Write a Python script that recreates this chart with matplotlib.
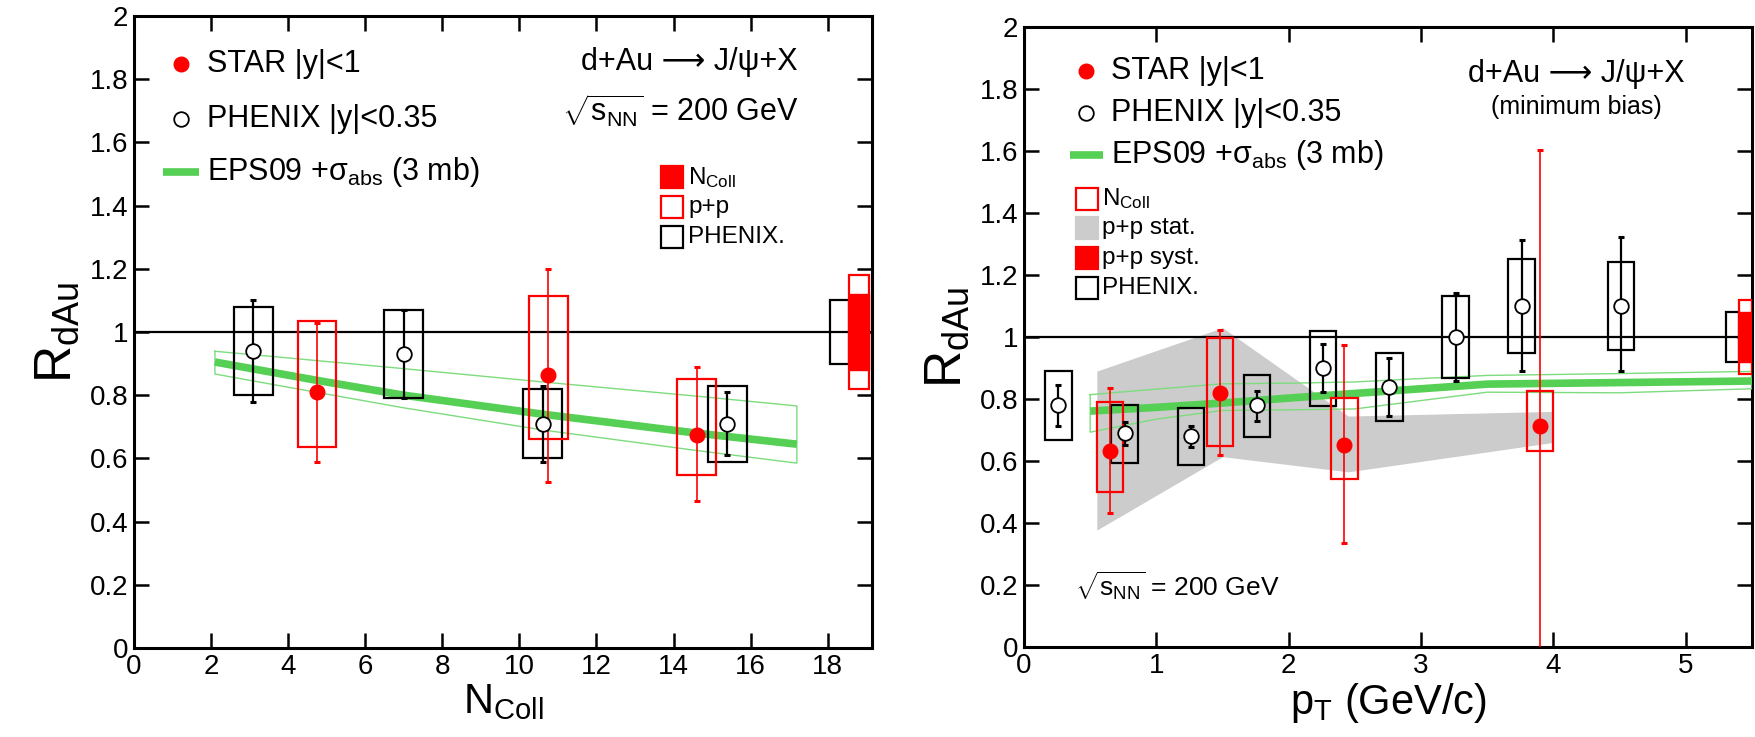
import matplotlib
matplotlib.use('Agg')
import matplotlib.pyplot as plt
from matplotlib.patches import Rectangle
from matplotlib.ticker import FuncFormatter
import numpy as np

plt.rcParams['font.family'] = ['Liberation Sans', 'DejaVu Sans']
plt.rcParams['mathtext.fontset'] = 'custom'
plt.rcParams['mathtext.rm'] = 'Liberation Sans'
plt.rcParams['mathtext.it'] = 'Liberation Sans:italic'
plt.rcParams['mathtext.default'] = 'regular'

RED = '#ff0000'
GREEN = '#55d055'
GREEN_THIN = '#7ddc7d'
GRAY = '#cccccc'

# ---- left: R_dAu vs N_coll ----
phx_ncoll = [3.1, 7.0, 10.6, 15.4]
phx_ncoll_r = [0.94, 0.93, 0.71, 0.71]
phx_ncoll_stat_lo = [0.78, 0.79, 0.59, 0.61]
phx_ncoll_stat_hi = [1.10, 1.07, 0.83, 0.81]
phx_ncoll_sys_lo = [0.80, 0.79, 0.60, 0.59]
phx_ncoll_sys_hi = [1.08, 1.07, 0.82, 0.83]

star_ncoll = [4.75, 10.75, 14.6]
star_ncoll_r = [0.81, 0.865, 0.675]
star_ncoll_stat_lo = [0.59, 0.525, 0.465]
star_ncoll_stat_hi = [1.03, 1.20, 0.89]
star_ncoll_sys_lo = [0.635, 0.66, 0.548]
star_ncoll_sys_hi = [1.035, 1.115, 0.851]

eps_ncoll = [2.1, 3.1, 4.7, 7.0, 10.6, 14.6, 17.2]
eps_ncoll_mid = [0.905, 0.883, 0.848, 0.800, 0.740, 0.680, 0.645]
eps_ncoll_hi = [0.939, 0.928, 0.910, 0.884, 0.842, 0.797, 0.766]
eps_ncoll_lo = [0.867, 0.845, 0.810, 0.760, 0.690, 0.625, 0.585]

# global uncertainties (half heights around 1)
glob_ncoll_phenix = 0.10
glob_ncoll_ncoll = 0.12
glob_ncoll_pp = 0.18

# ---- right: R_dAu vs pT ----
phx_pt = [0.26, 0.76, 1.26, 1.76, 2.26, 2.76, 3.26, 3.76, 4.51]
phx_pt_r = [0.78, 0.69, 0.68, 0.78, 0.90, 0.84, 1.00, 1.10, 1.10]
phx_pt_stat_lo = [0.714, 0.652, 0.644, 0.730, 0.822, 0.745, 0.858, 0.889, 0.889]
phx_pt_stat_hi = [0.844, 0.725, 0.714, 0.827, 0.978, 0.931, 1.141, 1.312, 1.321]
phx_pt_sys_lo = [0.669, 0.592, 0.586, 0.679, 0.778, 0.728, 0.868, 0.949, 0.959]
phx_pt_sys_hi = [0.890, 0.782, 0.771, 0.879, 1.019, 0.949, 1.133, 1.251, 1.241]

star_pt = [0.65, 1.48, 2.42, 3.90]
star_pt_r = [0.631, 0.819, 0.653, 0.712]
star_pt_stat_lo = [0.431, 0.619, 0.334, -0.25]
star_pt_stat_hi = [0.835, 1.022, 0.974, 1.604]
star_pt_sys_lo = [0.500, 0.650, 0.542, 0.633]
star_pt_sys_hi = [0.790, 0.997, 0.804, 0.827]

pp_stat_pt = [0.55, 1.50, 2.45, 4.0]
pp_stat_hi = [0.890, 1.030, 0.745, 0.760]
pp_stat_lo = [0.377, 0.614, 0.565, 0.660]

eps_pt = [0.5, 1.0, 1.5, 2.0, 2.5, 3.0, 3.5, 4.5, 5.5]
eps_pt_mid = [0.761, 0.773, 0.787, 0.803, 0.818, 0.833, 0.848, 0.853, 0.858]
eps_pt_hi = [0.814, 0.832, 0.849, 0.851, 0.855, 0.866, 0.876, 0.882, 0.889]
eps_pt_lo = [0.693, 0.735, 0.763, 0.765, 0.768, 0.795, 0.822, 0.820, 0.833]

glob_pt_phenix = 0.08
glob_pt_pp = 0.08
glob_pt_ncoll = 0.12

REACTION = 'd+Au ⟶ J/ψ+X'


def boxes(ax, x, lo, hi, half, color):
    for xi, l, h in zip(x, lo, hi):
        ax.add_patch(Rectangle((xi - half, l), 2 * half, h - l, fill=False,
                               edgecolor=color, lw=1.6, zorder=4))


def points(ax, x, r, lo, hi, filled):
    r = np.array(r)
    yerr = [r - np.array(lo), np.array(hi) - r]
    if filled:
        ax.errorbar(x, r, yerr=yerr, fmt='none', ecolor=RED, elinewidth=1.2,
                    capsize=2.5, capthick=2.2, zorder=5)
        ax.plot(x, r, 'o', color=RED, ms=10.5, mec=RED, zorder=6)
    else:
        ax.errorbar(x, r, yerr=yerr, fmt='none', ecolor='black', elinewidth=1.6,
                    capsize=2.5, capthick=2.2, zorder=5)
        ax.plot(x, r, 'o', mfc='white', mec='black', mew=1.3, ms=10.5, zorder=6)


def eps_band(ax, x, mid, lo, hi):
    xs = list(x) + list(x)[::-1] + [x[0]]
    ys = list(hi) + list(lo)[::-1] + [hi[0]]
    ax.plot(xs, ys, color=GREEN_THIN, lw=1.0, zorder=3)
    ax.plot(x, mid, color=GREEN, lw=5.5, solid_capstyle='butt', zorder=3)


def style(ax, xmax, xticks):
    ax.set_xlim(0, xmax)
    ax.set_ylim(0, 2)
    ax.set_xticks(xticks)
    ax.set_yticks(np.arange(0, 2.01, 0.2))
    ax.yaxis.set_major_formatter(FuncFormatter(lambda v, p: '%g' % round(v, 1)))
    ax.tick_params(direction='in', length=11, width=1.8, top=True, right=True,
                   labelsize=20, pad=4)
    for s in ax.spines.values():
        s.set_linewidth(2.2)
    ax.axhline(1, color='black', lw=1.6, zorder=2)
    ax.set_ylabel(r'R$_{dAu}$', fontsize=37, labelpad=6)


def legend_square(ax, x, y, xt, face, edge, label):
    ax.plot([x], [y], 's', ms=15.5, mfc=face, mec=edge, mew=1.6, zorder=7)
    ax.text(xt, y, label, fontsize=17.5, va='center', ha='left', zorder=7)


fig = plt.figure(figsize=(17.55, 7.37), dpi=100)
ax1 = fig.add_axes([134 / 1755, 89 / 737, 738 / 1755, 632 / 737])
ax2 = fig.add_axes([1024 / 1755, 90 / 737, 728 / 1755, 620 / 737])

# ---- left panel ----
style(ax1, 19.15, np.arange(0, 19, 2))
eps_band(ax1, eps_ncoll, eps_ncoll_mid, eps_ncoll_lo, eps_ncoll_hi)
boxes(ax1, phx_ncoll, phx_ncoll_sys_lo, phx_ncoll_sys_hi, 0.5, 'black')
boxes(ax1, star_ncoll, star_ncoll_sys_lo, star_ncoll_sys_hi, 0.5, RED)
points(ax1, phx_ncoll, phx_ncoll_r, phx_ncoll_stat_lo, phx_ncoll_stat_hi, False)
points(ax1, star_ncoll, star_ncoll_r, star_ncoll_stat_lo, star_ncoll_stat_hi, True)

ax1.add_patch(Rectangle((18.05, 1 - glob_ncoll_phenix), 0.5, 2 * glob_ncoll_phenix,
                        fill=False, edgecolor='black', lw=1.6, zorder=4))
ax1.add_patch(Rectangle((18.55, 1 - glob_ncoll_pp), 0.53, 2 * glob_ncoll_pp,
                        fill=False, edgecolor=RED, lw=1.6, zorder=4))
ax1.add_patch(Rectangle((18.55, 1 - glob_ncoll_ncoll), 0.53, 2 * glob_ncoll_ncoll,
                        facecolor=RED, edgecolor=RED, lw=1.0, zorder=4))

ax1.set_xlabel(r'N$_{Coll}$', fontsize=30, labelpad=2)

ax1.plot([1.23], [1.848], 'o', color=RED, ms=10.5)
ax1.text(1.9, 1.848, 'STAR |y|<1', fontsize=22, va='center')
ax1.plot([1.23], [1.675], 'o', mfc='white', mec='black', mew=1.3, ms=10.5)
ax1.text(1.9, 1.675, 'PHENIX |y|<0.35', fontsize=22, va='center')
ax1.plot([0.75, 1.69], [1.505, 1.505], color=GREEN, lw=5.5, solid_capstyle='butt')
ax1.text(1.9, 1.505, r'EPS09 +$\sigma_{abs}$ (3 mb)', fontsize=22, va='center')
ax1.text(14.41, 1.853, REACTION, fontsize=22, ha='center', va='center',
         family=['Liberation Sans', 'DejaVu Sans'])
ax1.text(14.17, 1.70, r'$\sqrt{s_{NN}}$ = 200 GeV', fontsize=22, ha='center', va='center')

legend_square(ax1, 13.97, 1.49, 14.38, RED, RED, r'N$_{Coll}$')
legend_square(ax1, 13.97, 1.395, 14.38, 'white', RED, 'p+p')
legend_square(ax1, 13.97, 1.30, 14.38, 'white', 'black', 'PHENIX.')

# ---- right panel ----
style(ax2, 5.5, np.arange(0, 6, 1))
ax2.fill_between(pp_stat_pt, pp_stat_lo, pp_stat_hi, color=GRAY, lw=0, zorder=1)
eps_band(ax2, eps_pt, eps_pt_mid, eps_pt_lo, eps_pt_hi)
boxes(ax2, phx_pt, phx_pt_sys_lo, phx_pt_sys_hi, 0.1, 'black')
boxes(ax2, star_pt, star_pt_sys_lo, star_pt_sys_hi, 0.1, RED)
points(ax2, phx_pt, phx_pt_r, phx_pt_stat_lo, phx_pt_stat_hi, False)
points(ax2, star_pt, star_pt_r, star_pt_stat_lo, star_pt_stat_hi, True)

ax2.add_patch(Rectangle((5.305, 1 - glob_pt_phenix), 0.1, 2 * glob_pt_phenix,
                        fill=False, edgecolor='black', lw=1.6, zorder=4))
ax2.add_patch(Rectangle((5.405, 1 - glob_pt_ncoll), 0.095, 2 * glob_pt_ncoll,
                        fill=False, edgecolor=RED, lw=1.6, zorder=4))
ax2.add_patch(Rectangle((5.405, 1 - glob_pt_pp), 0.095, 2 * glob_pt_pp,
                        facecolor=RED, edgecolor=RED, lw=1.0, zorder=4))

ax2.set_xlabel(r'p$_{T}$ (GeV/c)', fontsize=30, labelpad=2)

ax2.plot([0.467], [1.857], 'o', color=RED, ms=10.5)
ax2.text(0.66, 1.857, 'STAR |y|<1', fontsize=22, va='center')
ax2.plot([0.467], [1.722], 'o', mfc='white', mec='black', mew=1.3, ms=10.5)
ax2.text(0.66, 1.722, 'PHENIX |y|<0.35', fontsize=22, va='center')
ax2.plot([0.35, 0.6], [1.587, 1.587], color=GREEN, lw=5.5, solid_capstyle='butt')
ax2.text(0.66, 1.587, r'EPS09 +$\sigma_{abs}$ (3 mb)', fontsize=22, va='center')
ax2.text(4.17, 1.847, REACTION, fontsize=22, ha='center', va='center',
         family=['Liberation Sans', 'DejaVu Sans'])
ax2.text(4.17, 1.742, '(minimum bias)', fontsize=18, ha='center', va='center')
ax2.text(0.385, 0.196, r'$\sqrt{s_{NN}}$ = 200 GeV', fontsize=19, ha='left', va='center')

legend_square(ax2, 0.476, 1.445, 0.59, 'white', RED, r'N$_{Coll}$')
legend_square(ax2, 0.476, 1.352, 0.59, GRAY, GRAY, 'p+p stat.')
legend_square(ax2, 0.476, 1.255, 0.59, RED, RED, 'p+p syst.')
legend_square(ax2, 0.476, 1.158, 0.59, 'white', 'black', 'PHENIX.')

fig.savefig('out.png', dpi=100)
